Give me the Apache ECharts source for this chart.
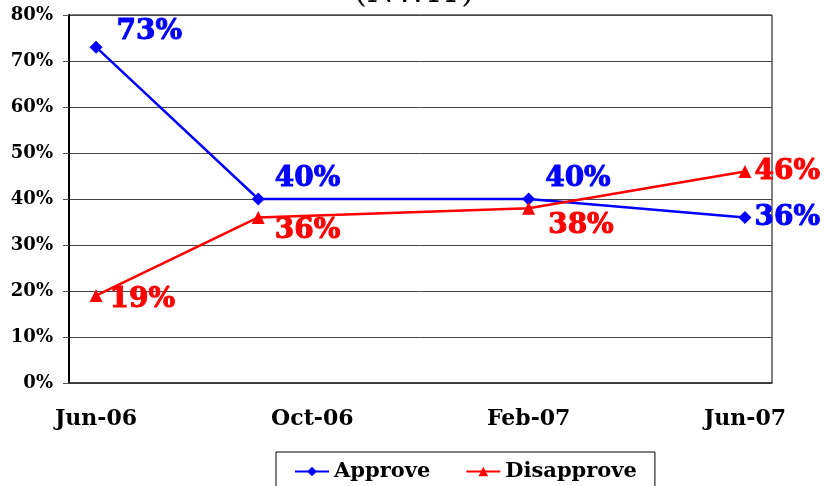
<!DOCTYPE html>
<html>
<head>
<meta charset="utf-8">
<script src="https://cdn.jsdelivr.net/npm/echarts@6/dist/echarts.min.js"></script>
<style>
html,body{margin:0;padding:0;background:#fff;}
#container{width:828px;height:486px;}
</style>
</head>
<body>
<div id="container"></div>
<script>
// months on the date axis, one slot per month
var months = ['Jun-06','Jul-06','Aug-06','Sep-06','Oct-06','Nov-06','Dec-06','Jan-07','Feb-07','Mar-07','Apr-07','May-07','Jun-07'];
// poll results, null where no poll that month
var approve    = [73, null, null, 40, null, null, null, null, 40, null, null, null, 36];
var disapprove = [19, null, null, 36, null, null, null, null, 38, null, null, null, 46];
var yTicks = [0, 10, 20, 30, 40, 50, 60, 70, 80];

var serif = '"DejaVu Serif", "Liberation Serif", serif';

// label nudges (px) so the numbers sit like the original
var approveShift    = {0:[11,-15], 3:[7,-20], 8:[7,-20], 12:[0,0]};
var disapproveShift = {0:[4,4], 3:[7,13], 8:[10,18], 12:[0,0]};

function build(arr, shift, color){
    return arr.map(function(v, i){
        if(v == null) return null;
        return {
            value: v,
            label: {
                offset: shift[i],
                fontFamily: serif,
                fontSize: 28,
                fontWeight: 'bold',
                color: color,
                textBorderColor: color,
                textBorderWidth: 1
            }
        };
    });
}

var myChart = echarts.init(document.getElementById('container'));

var option = {
    animation: false,
    title: {
        text: '(NWIY)',
        left: 'center',
        top: -27,
        textStyle: {fontFamily: serif, fontSize: 32, fontWeight: 'normal', color: '#000'}
    },
    legend: {
        top: 452,
        left: 276,
        padding: [9, 18, 14, 18],
        borderColor: '#000',
        borderWidth: 1,
        itemWidth: 34,
        itemHeight: 12,
        itemGap: 35,
        textStyle: {fontFamily: serif, fontSize: 21, fontWeight: 'bold', color: '#000'},
        data: ['Approve', 'Disapprove']
    },
    grid: {
        left: 69,
        right: 56,
        top: 15,
        bottom: 103,
        show: true,
        borderColor: '#000',
        borderWidth: 1
    },
    xAxis: {
        type: 'category',
        data: months,
        boundaryGap: true,
        axisLine: {lineStyle: {color: '#333', width: 1.5}},
        axisTick: {interval: 3, length: 7, lineStyle: {color: '#555'}},
        axisLabel: {
            interval: 3,
            margin: 25,
            fontFamily: serif,
            fontSize: 22,
            fontWeight: 'bold',
            color: '#000'
        },
        splitLine: {show: false}
    },
    yAxis: {
        type: 'value',
        min: yTicks[0],
        max: yTicks[yTicks.length - 1],
        interval: 10,
        axisLine: {show: true, lineStyle: {color: '#000', width: 2}},
        axisTick: {show: true, length: 6, lineStyle: {color: '#555'}},
        axisLabel: {
            formatter: '{value}%',
            margin: 16,
            fontFamily: serif,
            fontSize: 18,
            fontWeight: 'bold',
            color: '#000'
        },
        splitLine: {lineStyle: {color: '#444', width: 1}}
    },
    series: [
        {
            name: 'Approve',
            type: 'line',
            data: build(approve, approveShift, '#0000ff'),
            connectNulls: true,
            symbol: 'diamond',
            symbolSize: 13,
            color: '#0000ff',
            lineStyle: {color: '#0000ff', width: 2.5},
            itemStyle: {color: '#0000ff'},
            label: {
                show: true,
                position: 'right',
                distance: 3,
                formatter: '{c}%'
            }
        },
        {
            name: 'Disapprove',
            type: 'line',
            data: build(disapprove, disapproveShift, '#ff0000'),
            connectNulls: true,
            symbol: 'triangle',
            symbolSize: 13,
            color: '#ff0000',
            lineStyle: {color: '#ff0000', width: 2.5},
            itemStyle: {color: '#ff0000'},
            label: {
                show: true,
                position: 'right',
                distance: 3,
                formatter: '{c}%'
            }
        }
    ]
};
myChart.setOption(option);
</script>
</body>
</html>
